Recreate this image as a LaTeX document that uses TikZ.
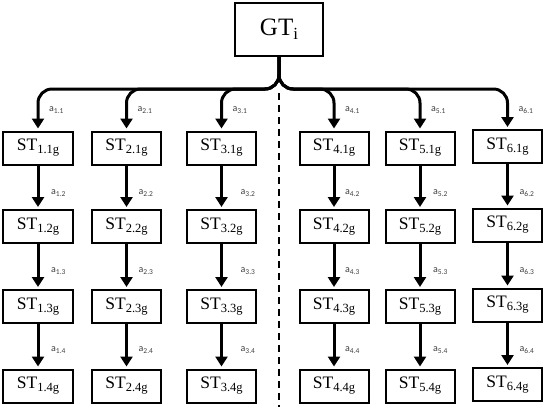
\documentclass[tikz,border=0pt]{standalone}
\usepackage{fontspec}
\setmainfont{Liberation Serif}
\newfontfamily\lblfont{Carlito}
\usetikzlibrary{arrows.meta,shadows}
\newcommand{\stlabel}[1]{\fontsize{17.5bp}{20bp}\selectfont ST\raisebox{-3bp}{\fontsize{12.5bp}{14bp}\selectfont #1g}}
\newcommand{\alabel}[1]{\lblfont\fontsize{10bp}{11bp}\selectfont a\raisebox{-1.5bp}{\fontsize{7.5bp}{9bp}\selectfont #1}}
\begin{document}
\begin{tikzpicture}[x=1bp,y=-1bp,
  box/.style={draw, line width=2bp, minimum width=69bp, minimum height=33bp, inner sep=0pt, fill=white,
    drop shadow={opacity=0.2, shadow xshift=1.2bp, shadow yshift=-1.2bp}},
  arr/.style={line width=3bp, -{Triangle[length=10bp,width=12bp]}, shorten >=2bp},
  lbl/.style={anchor=west, inner sep=0pt, text=black!75},
  sep/.style={line width=1.2bp, dash pattern=on 7bp off 5bp}]
\useasboundingbox (0,0) rectangle (550,411);
\node[box, minimum width=88bp, minimum height=53bp] (gt) at (279,29.5)
  {\fontsize{25bp}{28bp}\selectfont GT\raisebox{-4bp}{\fontsize{17bp}{19bp}\selectfont i}};
\coordinate (j) at (279,89);
\coordinate (d1) at (279,93);
\coordinate (d2) at (279,407);
\draw[sep] (d1) -- (d2);
\foreach \c/\x/\dy/\dx in {1/38/0/13, 2/126.5/0/12, 3/221.5/0/19, 4/334/0/11, 5/420/0/13, 6/507.5/-1.5/12} {
  \foreach \r/\y in {1/148, 2/226.5, 3/306.5, 4/386} {
    \node[box] (s\c\r) at (\x,{\y+\dy}) {\stlabel{\c.\r}};
  }
  \draw[arr, rounded corners=14bp] (gt.south) -- (j) -| (s\c1.north);
  \draw[arr] (s\c1) -- (s\c2);
  \draw[arr] (s\c2) -- (s\c3);
  \draw[arr] (s\c3) -- (s\c4);
  \node[lbl] (l\c1) at ({\x+11},110) {\alabel{\c.1}};
  \node[lbl] (l\c2) at ({\x+\dx},193) {\alabel{\c.2}};
  \node[lbl] (l\c3) at ({\x+\dx},271) {\alabel{\c.3}};
  \node[lbl] (l\c4) at ({\x+\dx},350) {\alabel{\c.4}};
}
\end{tikzpicture}
\end{document}
